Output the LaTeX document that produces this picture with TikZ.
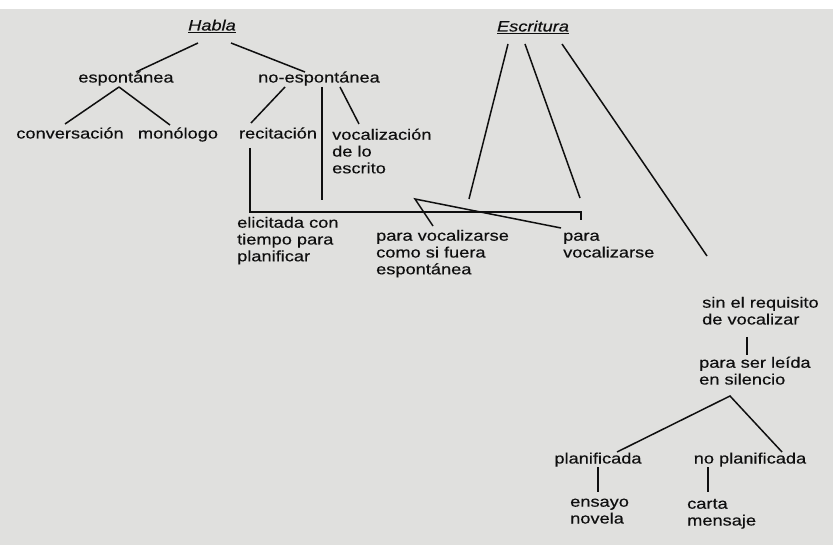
\documentclass[tikz,border=0pt]{standalone}
\usepackage{fontspec}
\setmainfont[FakeStretch=1.215,FakeBold=0.35]{Liberation Sans}
\usetikzlibrary{calc}
\newcommand\firstlinestrut{\rule{0pt}{11pt}}
\definecolor{paper}{RGB}{224,224,222}
\definecolor{ink}{RGB}{15,15,15}
\begin{document}
\begin{tikzpicture}[x=1pt,y=-1pt,
  lbl/.style={inner sep=0pt, text height=10pt, text depth=3pt,
              font=\fontsize{15}{17}\selectfont, text=ink},
  blk/.style={inner sep=0pt, align=left, anchor=north west,
              font=\fontsize{15}{16.8}\selectfont, text=ink},
  link/.style={draw=ink, line width=1.5pt}]
% page
\fill[paper] (0,0) rectangle (833,545);
\fill[white] (0,0) rectangle (833,9);
\useasboundingbox (0,0) rectangle (833,545);

% ---- Habla ----
\node[lbl] (habla) at (212,27) {\underline{\textit{Habla}}};
\node[lbl] (esp)   at (126,79) {espontánea};
\node[lbl] (noesp) at (319,79) {no-espontánea};
\node[lbl] (conv)  at (70,135) {conversación};
\node[lbl] (mono)  at (178,135) {monólogo};
\node[lbl] (reci)  at (278,135) {recitación};
\node[blk] (voc)   at (332,128.5) {\firstlinestrut vocalización\\de lo\\escrito};
\node[blk] (elic)  at (237,216.5) {\firstlinestrut elicitada con\\tiempo para\\planificar};

% ---- Escritura ----
\node[lbl] (escr)  at (533,28) {\underline{\textit{Escritura}}};
\node[blk] (pvcs)  at (376,229.5) {\firstlinestrut para vocalizarse\\como si fuera\\espontánea};
\node[blk] (pv)    at (563,229.5) {\firstlinestrut para\\vocalizarse};
\node[blk] (sinreq) at (702,296.5) {\firstlinestrut sin el requisito\\de vocalizar};
\node[blk] (leida) at (699,356.5) {\firstlinestrut para ser leída\\en silencio};
\node[lbl] (plan)  at (598,460) {planificada};
\node[lbl] (noplan) at (750,460) {no planificada};
\node[blk] (ensayo) at (570,495.5) {\firstlinestrut ensayo\\novela};
\node[blk] (carta) at (687,497.5) {\firstlinestrut carta\\mensaje};

% free ends and bends
\coordinate (noespend) at (322,200);
\coordinate (bracket)  at (581,212);
\coordinate (bracketend) at (581,220);
\coordinate (escrend)  at (469,199);
\coordinate (apex)     at (415,199);
\coordinate (escrlong) at (707,256);

% Habla branches
\draw[link] ($(habla)+(-14,16)$) -- ($(esp)+(10,-7)$);
\draw[link] ($(habla)+(19,16)$) -- ($(noesp)+(-14,-7)$);
\draw[link] ($(esp)+(-7,8)$) -- ($(conv)+(-5,-11)$);
\draw[link] ($(esp)+(-7,8)$) -- ($(mono)+(-8,-10)$);
\draw[link] ($(noesp)+(-34,8)$) -- ($(reci)+(-27,-12)$);
\draw[link] ($(noesp)+(3,8)$) -- (noespend);
\draw[link] ($(noesp)+(21,8)$) -- ($(voc.north west)+(27,-4.5)$);
\draw[link] ($(reci)+(-28,13)$) |- (bracket) -- (bracketend);

% Escritura branches
\draw[link] ($(escr)+(-25,16)$) -- (escrend);
\draw[link] ($(escr)+(-8,16)$) -- ($(pv.north west)+(17,-31.5)$);
\draw[link] ($(escr)+(29,16)$) -- (escrlong);
\draw[link] ($(pvcs.north west)+(57,-3.5)$) -- (apex) -- ($(pv.north west)+(-2,-1.5)$);
\draw[link] ($(sinreq.north west)+(45,40.5)$) -- ($(leida.north west)+(48,-1.5)$);
\draw[link] ($(plan)+(19,-8)$) -- ($(leida.north west)+(31,39.5)$) -- ($(noplan)+(32,-8)$);
\draw[link] ($(plan)+(0,7)$) -- ($(ensayo.north west)+(28,-3.5)$);
\draw[link] ($(noplan)+(-42,7)$) -- ($(carta.north west)+(21,-5.5)$);
\end{tikzpicture}
\end{document}
